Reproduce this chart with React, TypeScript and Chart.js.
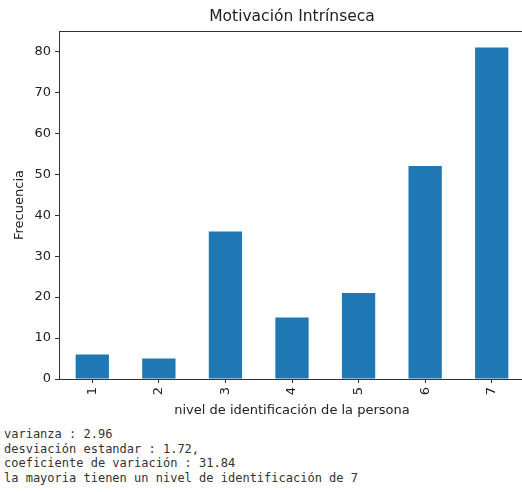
import React, { useEffect, useRef } from "react";
import { Chart, registerables } from "chart.js";

Chart.register(...registerables);

const categories = ["1", "2", "3", "4", "5", "6", "7"];
const frequencies = [6, 5, 36, 15, 21, 52, 81];
const yTickStep = 10;
const yMax = 85;
const titleText = "Motivación Intrínseca";
const xLabel = "nivel de identificación de la persona";
const yLabel = "Frecuencia";
const notes = [
  "varianza : 2.96",
  "desviación estandar : 1.72,",
  "coeficiente de variación : 31.84",
  "la mayoria tienen un nivel de identificación de 7",
];

const FONT = "'DejaVu Sans', sans-serif";

export default function App() {
  const ref = useRef<HTMLCanvasElement | null>(null);

  useEffect(() => {
    if (!ref.current) return;
    const framePlugin = {
      id: "frame",
      afterDraw(chart: any) {
        const { ctx, chartArea } = chart;
        ctx.save();
        ctx.strokeStyle = "#333";
        ctx.lineWidth = 1;
        ctx.beginPath();
        ctx.moveTo(chartArea.left, chartArea.top + 0.5);
        ctx.lineTo(chartArea.right, chartArea.top + 0.5);
        ctx.stroke();
        ctx.fillStyle = "#222";
        ctx.font = `15.5px ${FONT}`;
        ctx.textAlign = "center";
        ctx.textBaseline = "middle";
        ctx.fillText(titleText, (chartArea.left + chartArea.right) / 2, 17);
        ctx.restore();
      },
    };
    const chart = new Chart(ref.current, {
      type: "bar",
      data: {
        labels: categories,
        datasets: [
          {
            data: frequencies,
            backgroundColor: "#1f77b4",
            borderWidth: 0,
            barPercentage: 0.5,
            categoryPercentage: 1,
          },
        ],
      },
      options: {
        animation: false,
        responsive: false,
        devicePixelRatio: 1,
        layout: { padding: { top: 31, right: 5, left: 0, bottom: 0 } },
        plugins: {
          legend: { display: false },
          tooltip: { enabled: false },
          title: { display: false },
        },
        scales: {
          x: {
            offset: true,
            grid: {
              display: true,
              drawOnChartArea: false,
              drawTicks: true,
              tickLength: 4,
              color: "#333",
              offset: false,
            },
            border: { display: true, color: "#333" },
            ticks: {
              minRotation: 90,
              maxRotation: 90,
              padding: 4,
              color: "#222",
              font: { family: FONT, size: 13 },
            },
            title: {
              display: true,
              text: xLabel,
              color: "#222",
              font: { family: FONT, size: 13 },
              padding: { top: 0, bottom: 2 },
            },
            afterFit: (s: any) => {
              s.height = 41;
            },
          },
          y: {
            min: 0,
            max: yMax,
            grid: {
              drawOnChartArea: false,
              drawTicks: true,
              tickLength: 4,
              color: "#333",
            },
            border: { display: true, color: "#333" },
            ticks: {
              stepSize: yTickStep,
              padding: 4,
              color: "#222",
              font: { family: FONT, size: 13 },
            },
            afterBuildTicks: (s: any) => {
              s.ticks = s.ticks.filter((t: any) => t.value % yTickStep === 0);
            },
            title: {
              display: true,
              text: yLabel,
              color: "#222",
              font: { family: FONT, size: 13 },
              padding: { top: 12, bottom: 0 },
            },
            afterFit: (s: any) => {
              s.width = 59;
            },
          },
        },
      },
      plugins: [framePlugin],
    });
    return () => chart.destroy();
  }, []);

  return (
    <div
      style={{
        position: "fixed",
        left: 0,
        top: 0,
        width: 522,
        height: 492,
        overflow: "hidden",
        background: "#fff",
      }}
    >
      <canvas
        ref={ref}
        width={530}
        height={420}
        style={{ position: "absolute", left: 0, top: 0, width: 530, height: 420 }}
      />
      <div
        style={{
          position: "absolute",
          left: 4,
          top: 427,
          fontFamily: "'DejaVu Sans Mono', monospace",
          fontSize: 12,
          lineHeight: "14.6px",
          color: "#333",
          whiteSpace: "pre",
        }}
      >
        {notes.map((n, i) => (
          <div key={i}>{n}</div>
        ))}
      </div>
    </div>
  );
}
